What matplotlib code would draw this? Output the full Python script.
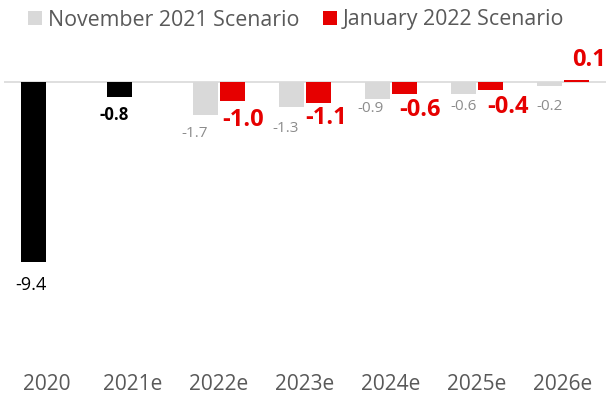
import matplotlib
matplotlib.use("Agg")
import matplotlib.pyplot as plt
import numpy as np

categories = ["2020", "2021e", "2022e", "2023e", "2024e", "2025e", "2026e"]
actual_vals = [-9.4, -0.8]                      # black bars (2020, 2021e)
nov2021 = [-1.7, -1.3, -0.9, -0.6, -0.2]        # 2022e..2026e
jan2022 = [-1.0, -1.1, -0.6, -0.4, 0.1]         # 2022e..2026e
series_names = ["November 2021 Scenario", "January 2022 Scenario"]

# label nudges in pixels (style only)
actual_nudge = [(-2.5, -14), (-5, -9)]
nov_nudge = [(-11, -11), (-6, -14), (-7, -2), (0, -5.5), (0, -13)]
jan_nudge = [(10.5, -6.5), (7, -3), (15, -4.5), (17.5, -5.5), (12, 8)]

plt.rcParams['font.family'] = ['Open Sans', 'DejaVu Sans']

W, H = 606, 394
fig = plt.figure(figsize=(W / 100, H / 100), dpi=100)
ax_left, ax_right = 4, 606
ax_top, ax_bot = 53.3, 359.7
ax = fig.add_axes([ax_left / W, (H - ax_bot) / H, (ax_right - ax_left) / W, (ax_bot - ax_top) / H])

grey = "#D9D9D9"
red = "#E60000"
bw = 0.29
off = 0.16

x = np.arange(len(categories))
xa = x[:len(actual_vals)]
xf = x[len(actual_vals):]

ba = ax.bar(xa - off, actual_vals, bw, color="black", zorder=3)
bg = ax.bar(xf - off, nov2021, bw, color=grey, zorder=3, label=series_names[0])
br = ax.bar(xf + off, jan2022, bw, color=red, zorder=3, label=series_names[1])

ax.axhline(0, color="#D9D9D9", lw=1.2, zorder=2)

# labels
for i, (xi, v) in enumerate(zip(xa - off, actual_vals)):
    dx, dy = actual_nudge[i]
    if i == 0:
        ax.annotate(f"{v:.1f}", (xi, v), xytext=(dx, dy), textcoords="offset pixels",
                    ha="center", va="top", fontsize=13, color="black")
    else:
        ax.annotate(f"{v:.1f}", (xi, v), xytext=(dx, dy), textcoords="offset pixels",
                    ha="center", va="top", fontsize=12, color="black", fontweight="bold")
for i, (xi, v) in enumerate(zip(xf - off, nov2021)):
    dx, dy = nov_nudge[i]
    ax.annotate(f"{v:.1f}", (xi, v), xytext=(dx, dy), textcoords="offset pixels",
                ha="center", va="top", fontsize=11, color="#8C8C8C")
for i, (xi, v) in enumerate(zip(xf + off, jan2022)):
    dx, dy = jan_nudge[i]
    ax.annotate(f"{v:.1f}", (xi, v), xytext=(dx, dy), textcoords="offset pixels",
                ha="center", va="top" if v < 0 else "bottom",
                fontsize=17, color=red, fontweight="bold")

ax.set_xlim(-0.5, 6.5)
ax.set_ylim(-14.5, 1.5)
ax.set_xticks(x)
ax.set_xticklabels(categories, fontsize=15, color="#595959")
ax.tick_params(axis="x", length=0, pad=10)
ax.set_yticks([])
for s in ax.spines.values():
    s.set_visible(False)

fig.legend(handles=[bg, br], labels=series_names, loc="center left",
           bbox_to_anchor=(28 / W, 1 - 20 / H), ncol=2, frameon=False,
           fontsize=15.4, labelcolor="#595959", handlelength=0.64, handleheight=0.64,
           handletextpad=0.3, columnspacing=1.1, borderpad=0.0, borderaxespad=0)

fig.savefig("out.png", dpi=100)
